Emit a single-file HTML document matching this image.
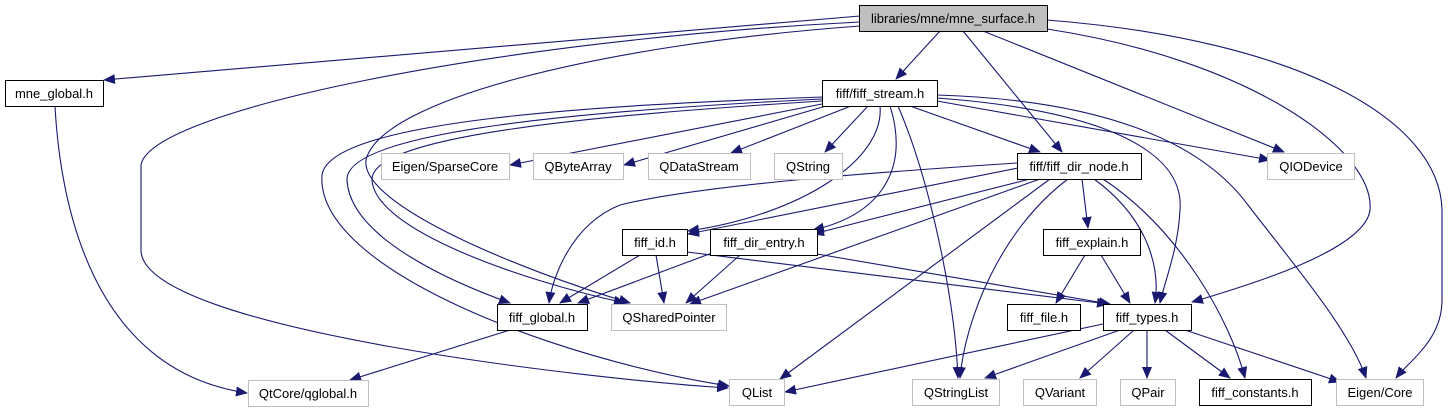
<!DOCTYPE html>
<html><head><meta charset="utf-8"><style>
html,body{margin:0;padding:0;background:#fff}
svg{display:block}
text{font-family:"Liberation Sans",sans-serif;font-size:13px;fill:#000}
</style></head><body>
<svg width="1448" height="411" viewBox="0 0 1448 411" xmlns="http://www.w3.org/2000/svg">
<defs>
<marker id="a" markerWidth="12" markerHeight="10" refX="11" refY="5" orient="auto" markerUnits="userSpaceOnUse">
<path d="M0,0 L12,5 L0,10 Z" fill="#191970"/>
</marker>
</defs>
<g fill="none" stroke="#191970" stroke-width="1.1" marker-end="url(#a)">
<path d="M860,16 L104,80"/>
<path d="M860,22 C500,40 150,110 141,165 L141,250 C141,330 600,380 728,388"/>
<path d="M860,26 C600,45 380,100 366,160 C360,205 520,270 630,303"/>
<path d="M940,31 L896,79"/>
<path d="M963,31 L1062,152"/>
<path d="M983,31 L1284,152"/>
<path d="M1047,29 C1250,60 1375,150 1370,210 C1365,250 1250,285 1192,302"/>
<path d="M1047,20 C1300,40 1440,120 1442,210 L1442,300 C1442,340 1410,360 1396,378"/>
<path d="M822,97 C600,105 330,120 322,175 C315,270 560,360 729,386"/>
<path d="M822,99 C600,110 345,130 347,180 C350,240 460,285 510,303"/>
<path d="M822,101 C600,115 370,135 372,180 C375,230 520,280 625,303"/>
<path d="M822,104 L510,165"/>
<path d="M826,106 L624,165"/>
<path d="M851,106 L731,153"/>
<path d="M868,106 L825,152"/>
<path d="M880,106 C885,160 800,215 688,231"/>
<path d="M890,106 C910,170 880,215 813,230"/>
<path d="M898,106 C930,180 955,300 958,378"/>
<path d="M910,106 L1040,152"/>
<path d="M937,101 L1270,160"/>
<path d="M937,98 C1100,110 1185,150 1180,210 C1178,250 1165,280 1160,303"/>
<path d="M937,95 C1100,100 1200,140 1248,205 C1290,260 1350,330 1366,378"/>
<path d="M1017,163 C880,172 700,185 620,205 C570,225 552,280 549,303"/>
<path d="M1018,168 L688,234"/>
<path d="M1030,179 L813,234"/>
<path d="M1040,179 L690,304"/>
<path d="M1050,179 L780,379"/>
<path d="M1068,179 C1000,230 965,320 960,378"/>
<path d="M1082,179 L1088,228"/>
<path d="M1094,179 C1150,220 1160,270 1155,303"/>
<path d="M1103,179 C1180,230 1230,320 1245,378"/>
<path d="M640,255 L560,303"/>
<path d="M656,255 L664,303"/>
<path d="M687,252 L1108,304"/>
<path d="M720,250 L578,303"/>
<path d="M740,255 L686,303"/>
<path d="M817,254 L1110,304"/>
<path d="M1085,255 L1056,303"/>
<path d="M1101,255 L1130,303"/>
<path d="M510,330 L350,380"/>
<path d="M55,106 C60,200 90,370 247,393"/>
<path d="M1103,324 L785,392"/>
<path d="M1120,330 L985,378"/>
<path d="M1134,330 L1080,378"/>
<path d="M1147,330 L1147,378"/>
<path d="M1165,330 L1230,378"/>
<path d="M1185,330 L1340,382"/>
</g>
<g stroke-width="1">
<rect x="859.5" y="5.5" width="188" height="26" fill="#bfbfbf" stroke="#000"/>
<rect x="5.5" y="80.5" width="98" height="26" fill="#fff" stroke="#000"/>
<rect x="822.5" y="80.5" width="115" height="26" fill="#fff" stroke="#000"/>
<rect x="381.5" y="153.5" width="128" height="26" fill="#fff" stroke="#bfbfbf"/>
<rect x="533.5" y="153.5" width="90" height="26" fill="#fff" stroke="#bfbfbf"/>
<rect x="648.5" y="153.5" width="102" height="26" fill="#fff" stroke="#bfbfbf"/>
<rect x="774.5" y="153.5" width="68" height="26" fill="#fff" stroke="#bfbfbf"/>
<rect x="1017.5" y="153.5" width="124" height="26" fill="#fff" stroke="#000"/>
<rect x="1267.5" y="153.5" width="87" height="26" fill="#fff" stroke="#bfbfbf"/>
<rect x="622.5" y="229.5" width="65" height="26" fill="#fff" stroke="#000"/>
<rect x="710.5" y="229.5" width="107" height="26" fill="#fff" stroke="#000"/>
<rect x="1043.5" y="229.5" width="97" height="26" fill="#fff" stroke="#000"/>
<rect x="497.5" y="304.5" width="90" height="26" fill="#fff" stroke="#000"/>
<rect x="611.5" y="304.5" width="115" height="26" fill="#fff" stroke="#bfbfbf"/>
<rect x="1007.5" y="304.5" width="73" height="26" fill="#fff" stroke="#000"/>
<rect x="1103.5" y="304.5" width="88" height="26" fill="#fff" stroke="#000"/>
<rect x="248.5" y="380.5" width="120" height="26" fill="#fff" stroke="#bfbfbf"/>
<rect x="729.5" y="379.5" width="55" height="26" fill="#fff" stroke="#bfbfbf"/>
<rect x="912.5" y="379.5" width="87" height="26" fill="#fff" stroke="#bfbfbf"/>
<rect x="1023.5" y="379.5" width="73" height="26" fill="#fff" stroke="#bfbfbf"/>
<rect x="1120.5" y="379.5" width="55" height="26" fill="#fff" stroke="#bfbfbf"/>
<rect x="1199.5" y="379.5" width="112" height="26" fill="#fff" stroke="#000"/>
<rect x="1336.5" y="379.5" width="87" height="26" fill="#fff" stroke="#bfbfbf"/>
</g>
<g text-anchor="middle">
<text x="953" y="23">libraries/mne/mne_surface.h</text>
<text x="54" y="98">mne_global.h</text>
<text x="880" y="98">fiff/fiff_stream.h</text>
<text x="445" y="171">Eigen/SparseCore</text>
<text x="578" y="171">QByteArray</text>
<text x="699" y="171">QDataStream</text>
<text x="808" y="171">QString</text>
<text x="1079" y="171">fiff/fiff_dir_node.h</text>
<text x="1311" y="171">QIODevice</text>
<text x="655" y="247">fiff_id.h</text>
<text x="764" y="247">fiff_dir_entry.h</text>
<text x="1092" y="247">fiff_explain.h</text>
<text x="542" y="322">fiff_global.h</text>
<text x="669" y="322">QSharedPointer</text>
<text x="1044" y="322">fiff_file.h</text>
<text x="1147" y="322">fiff_types.h</text>
<text x="308" y="398">QtCore/qglobal.h</text>
<text x="757" y="397">QList</text>
<text x="956" y="397">QStringList</text>
<text x="1060" y="397">QVariant</text>
<text x="1148" y="397">QPair</text>
<text x="1255" y="397">fiff_constants.h</text>
<text x="1380" y="397">Eigen/Core</text>
</g>
</svg>
</body></html>
